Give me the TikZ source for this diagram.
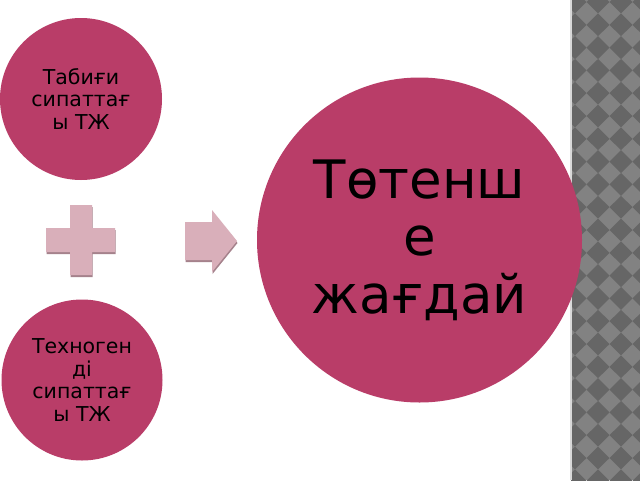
\documentclass[tikz,border=0pt]{standalone}
\usepackage{fontspec}
\setmainfont{DejaVu Sans}
\definecolor{circ}{RGB}{185,61,104}
\definecolor{pinkshape}{RGB}{217,175,186}
\definecolor{pinkshadow}{RGB}{165,130,140}
\definecolor{stripdark}{RGB}{102,102,102}
\definecolor{striplight}{RGB}{130,130,130}
\newcommand\myplusshape{(70,205) -- (92,205) -- (92,228) -- (115,228) -- (115,252) -- (92,252) -- (92,275) -- (70,275) -- (70,252) -- (46,252) -- (46,228) -- (70,228) -- cycle}
\newcommand\myarrowshape{(185,222) -- (212,222) -- (212,210) -- (237,241) -- (212,272) -- (212,260) -- (185,260) -- cycle}
\begin{document}
\begin{tikzpicture}[x=1pt,y=-1pt,
  bubble/.style={circle, fill=circ, inner sep=0pt, align=center, text=black},
  smalltext/.style={font=\fontsize{20.5}{22.5}\selectfont},
  bigtext/.style={font=\fontsize{53}{57.5}\selectfont}]
\fill[white] (0,0) rectangle (640,480);
\useasboundingbox (0,0) rectangle (640,480);
% patterned strip
\begin{scope}
  \clip (571,0) rectangle (640,480);
  \fill[striplight] (571,0) rectangle (640,480);
  \foreach \i in {-1,0,...,3} {
    \foreach \j in {0,...,22} {
      \fill[stripdark] ({575+23*\i-11.5},{2+22.8*\j}) -- ++(11.5,-11.4) -- ++(11.5,11.4) -- ++(-11.5,11.4) -- cycle;
    }
  }
\end{scope}
\draw[gray!30, line width=1.2pt] (571,0) -- (571,480);
% circles
\node[bubble, smalltext, minimum size=162pt] (nat) at (81,99) {Табиғи\\сипаттағ\\ы ТЖ};
\node[bubble, smalltext, minimum size=161pt] (tech) at (82,380) {Техноген\\ді\\сипаттағ\\ы ТЖ};
\node[bubble, bigtext, minimum size=325pt] (em) at (419.5,240) {Төтенш\\е\\жағдай};
% plus sign
\fill[pinkshadow, yshift=-2pt, xshift=0.5pt] \myplusshape;
\fill[pinkshape] \myplusshape;
% arrow
\fill[pinkshadow, yshift=-2pt, xshift=0.5pt] \myarrowshape;
\fill[pinkshape] \myarrowshape;
\end{tikzpicture}
\end{document}
